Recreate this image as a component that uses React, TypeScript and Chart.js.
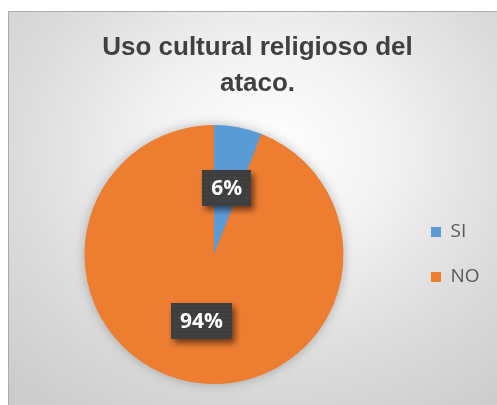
import React, { useEffect, useRef } from "react";
import { Chart, registerables } from "chart.js";

Chart.register(...registerables);

const categories = ["SI", "NO"];
const values = [6, 94];
const sliceColors = ["#5B9BD5", "#ED7D31"];
const titleLines = ["Uso cultural religioso del", "ataco."];

export default function App() {
  const canvasRef = useRef<HTMLCanvasElement>(null);

  useEffect(() => {
    const canvas = canvasRef.current;
    if (!canvas) return;
    const ctx = canvas.getContext("2d");
    if (!ctx) return;

    // dotted dark pattern for data label boxes
    const pc = document.createElement("canvas");
    pc.width = 4;
    pc.height = 4;
    const pctx = pc.getContext("2d")!;
    pctx.fillStyle = "#3E3E3E";
    pctx.fillRect(0, 0, 4, 4);
    pctx.fillStyle = "#525252";
    pctx.fillRect(1, 1, 1, 1);
    const pattern = ctx.createPattern(pc, "repeat");

    const total = values.reduce((a, b) => a + b, 0);

    const legendWidthPlugin = {
      id: "legendWidth",
      beforeLayout(chart: any) {
        const lg = chart.legend;
        if (lg && !lg._patchedFit) {
          const orig = lg.fit;
          lg.fit = function () {
            orig.call(this);
            this.width = 87;
          };
          lg._patchedFit = true;
        }
      },
    };

    const pieShadowPlugin = {
      id: "pieShadow",
      beforeDatasetsDraw(chart: any) {
        const meta = chart.getDatasetMeta(0);
        const arc = meta.data[0];
        if (!arc) return;
        const { x, y, outerRadius } = arc.getProps(["x", "y", "outerRadius"], true);
        const c = chart.ctx;
        c.save();
        c.shadowColor = "rgba(0,0,0,0.28)";
        c.shadowBlur = 12;
        c.fillStyle = sliceColors[1];
        c.beginPath();
        c.arc(x, y, outerRadius - 0.5, 0, Math.PI * 2);
        c.fill();
        c.restore();
      },
    };

    const dataLabelPlugin = {
      id: "boxLabels",
      afterDatasetsDraw(chart: any) {
        const meta = chart.getDatasetMeta(0);
        const c = chart.ctx;
        meta.data.forEach((arc: any, i: number) => {
          const { x, y, startAngle, endAngle, outerRadius } = arc.getProps(
            ["x", "y", "startAngle", "endAngle", "outerRadius"],
            true
          );
          const mid = (startAngle + endAngle) / 2;
          const cx = x + Math.cos(mid) * outerRadius * 0.52;
          const cy = y + Math.sin(mid) * outerRadius * 0.52;
          const text = Math.round((values[i] / total) * 100) + "%";
          c.save();
          c.font = 'bold 21px "Open Sans"';
          const tw = c.measureText(text).width;
          const w = tw + 18;
          const h = 36;
          c.shadowColor = "rgba(0,0,0,0.55)";
          c.shadowBlur = 6;
          c.shadowOffsetX = 3;
          c.shadowOffsetY = 4;
          c.fillStyle = pattern as any;
          c.fillRect(Math.round(cx - w / 2), Math.round(cy - h / 2), Math.round(w), h);
          c.restore();
          c.save();
          c.font = 'bold 21px "Open Sans"';
          c.fillStyle = "#FFFFFF";
          c.textAlign = "center";
          c.textBaseline = "middle";
          c.fillText(text, cx, cy + 1);
          c.restore();
        });
      },
    };

    const chart = new Chart(ctx, {
      type: "pie",
      data: {
        labels: categories,
        datasets: [
          {
            data: values,
            backgroundColor: sliceColors,
            borderWidth: 0,
          },
        ],
      },
      options: {
        animation: false,
        responsive: false,
        events: [],
        layout: { padding: { top: 9, left: 14, right: 17, bottom: 28 } },
        plugins: {
          tooltip: { enabled: false },
          title: {
            display: true,
            text: titleLines,
            color: "#404040",
            font: {
              family: "'Liberation Sans', Arial, sans-serif",
              size: 26,
              weight: "bold",
              lineHeight: 1.385,
            },
            padding: { top: 9, bottom: 23 },
          },
          legend: {
            display: true,
            position: "right",
            fullSize: false,
            labels: {
              color: "#595959",
              font: { family: "'Open Sans', sans-serif", size: 19 },
              boxWidth: 10,
              boxHeight: 10,
              padding: 26,
            },
          },
        },
      },
      plugins: [legendWidthPlugin, pieShadowPlugin, dataLabelPlugin],
    });

    return () => {
      chart.destroy();
    };
  }, []);

  return (
    <div
      style={{
        position: "fixed",
        left: 8,
        top: 11,
        width: 500,
        height: 400,
        borderTop: "1px solid #ABABAB",
        borderLeft: "1px solid #ABABAB",
        background:
          "radial-gradient(ellipse 75% 80% at 52% 35%, #FFFFFF 0%, #F3F3F3 30%, #DDDDDD 65%, #CCCCCC 100%)",
        overflow: "hidden",
      }}
    >
      <canvas ref={canvasRef} width={500} height={400} style={{ display: "block", width: 500, height: 400 }} />
    </div>
  );
}
